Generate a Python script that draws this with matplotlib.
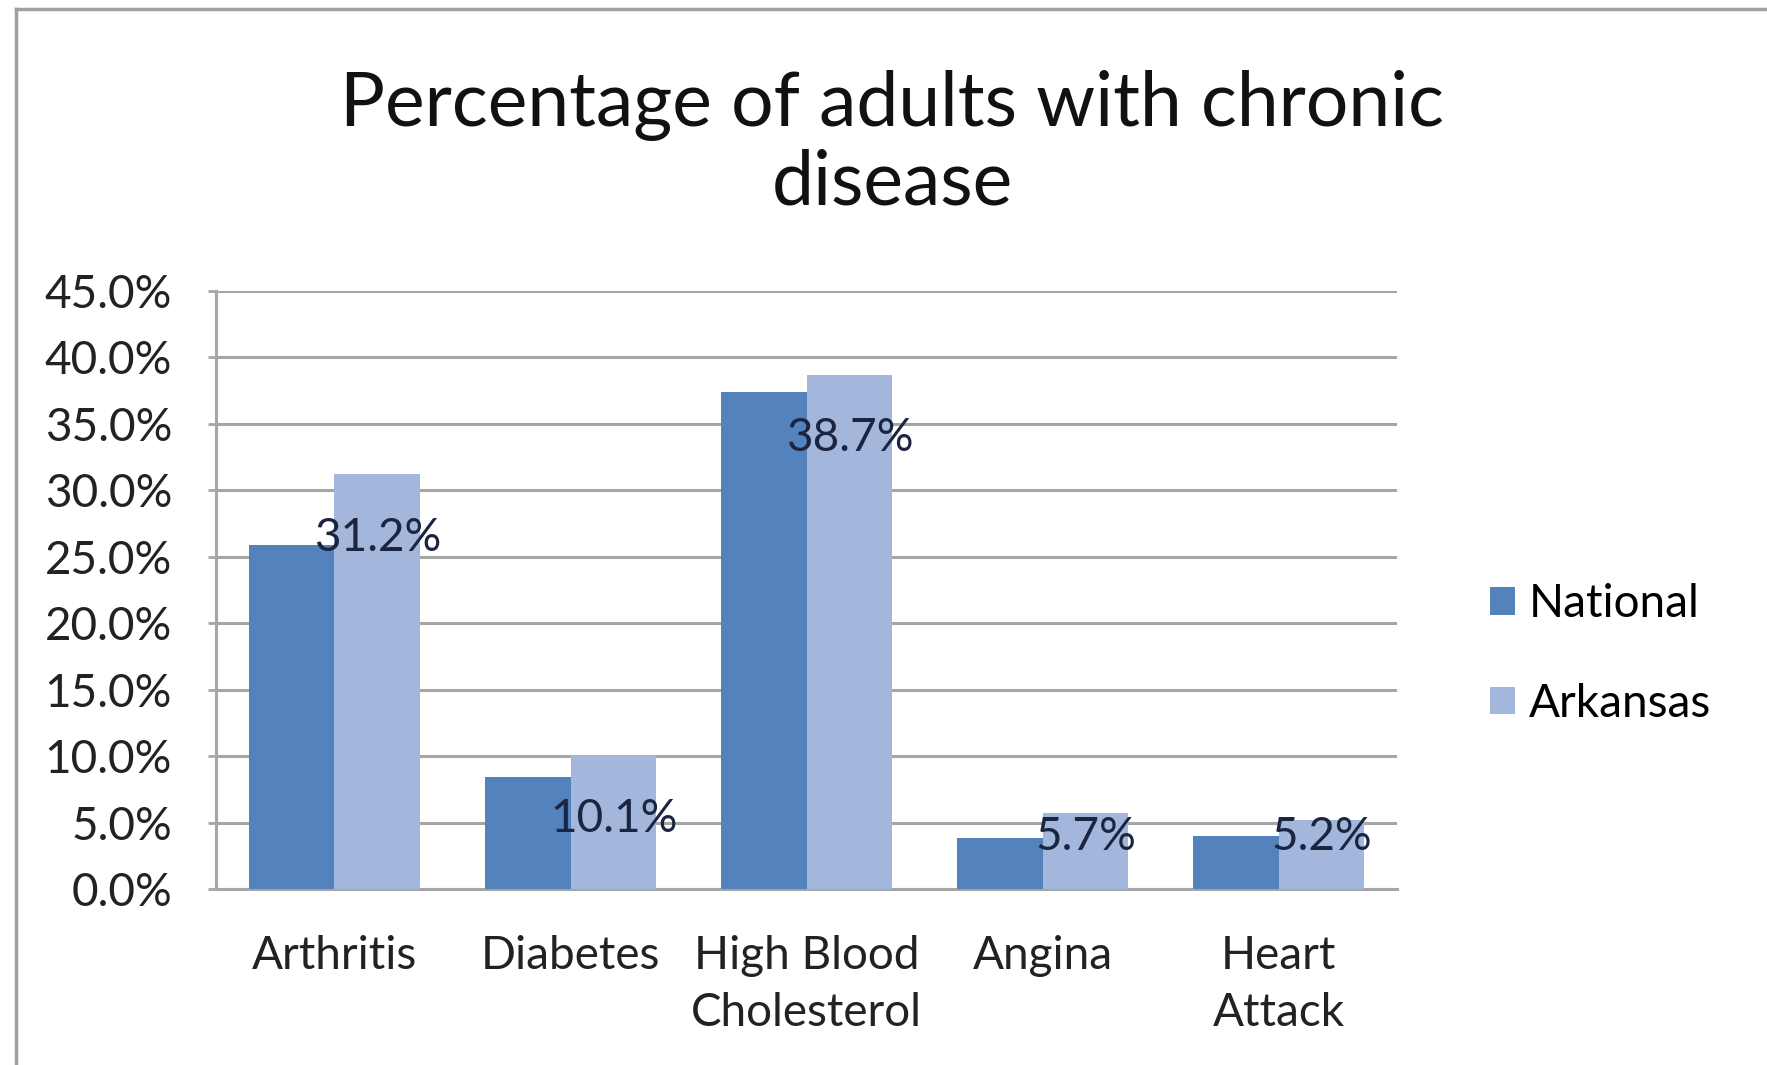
import numpy as np
import matplotlib
matplotlib.use("Agg")
import matplotlib.pyplot as plt
from matplotlib.lines import Line2D

# data
categories = ["Arthritis", "Diabetes", "High Blood\nCholesterol", "Angina", "Heart\nAttack"]
national = [25.9, 8.4, 37.4, 3.8, 4.0]
arkansas = [31.2, 10.1, 38.7, 5.7, 5.2]
series_names = ["National", "Arkansas"]
yticks = [0, 5, 10, 15, 20, 25, 30, 35, 40, 45]

col_nat = "#5482BD"
col_ark = "#A3B7DC"
grid_col = "#A6A6A6"
lbl_font = ["Lato", "DejaVu Sans"]

fig = plt.figure(figsize=(17.67, 10.65), dpi=100)
ax = fig.add_axes([0.1225, 0.1653, 0.668, 0.5615])

x = np.arange(len(categories))
w = 0.363
b1 = ax.bar(x - w / 2, national, w, color=col_nat, label=series_names[0], zorder=3)
b2 = ax.bar(x + w / 2, arkansas, w, color=col_ark, label=series_names[1], zorder=3)

# value labels sit inside the Arkansas bars
lab_y = np.maximum(np.array(arkansas) - 4.8, 3.9)
for xi, v, ly in zip(x, arkansas, lab_y):
    ax.text(xi + w / 2, ly, f"{v:.1f}%", ha="center", va="center",
            fontsize=33, family=lbl_font, color="#1B2540", zorder=5)

ax.set_xlim(-0.5, len(categories) - 0.5)
ax.set_ylim(0, 45)
ax.set_yticks(yticks)
ax.set_yticklabels([f"{t:.1f}%" for t in yticks], family=lbl_font, fontsize=33, color="#222222")
ax.set_xticks(x)
ax.set_xticklabels(categories, family=lbl_font, fontsize=33, color="#222222", linespacing=1.45)
ax.tick_params(axis="x", length=0, pad=33)
ax.tick_params(axis="y", length=6, width=2, color=grid_col, pad=26)
ax.yaxis.grid(True, color=grid_col, linewidth=2.2, zorder=0)
ax.set_axisbelow(True)
for s in ["top", "right"]:
    ax.spines[s].set_visible(False)
for s in ["left", "bottom"]:
    ax.spines[s].set_color(grid_col)
    ax.spines[s].set_linewidth(2.2)

fig.text(0.505, 0.865, "Percentage of adults with chronic\ndisease", ha="center", va="center",
         fontsize=54, family=lbl_font, linespacing=1.15, color="#111111")

fig.legend(handles=[b1, b2], loc="center left", bbox_to_anchor=(0.843, 0.386), frameon=False,
           prop={"family": lbl_font, "size": 33}, handlelength=0.55, handleheight=0.55,
           handletextpad=0.3, labelspacing=1.25, borderpad=0, borderaxespad=0)

# outer chart frame
fig.add_artist(Line2D([0.009, 0.009], [0, 0.992], transform=fig.transFigure, color="#A0A0A0", lw=2.5))
fig.add_artist(Line2D([0.009, 1.0], [0.992, 0.992], transform=fig.transFigure, color="#A0A0A0", lw=2.5))

fig.savefig("out.png", dpi=100, facecolor="white")
